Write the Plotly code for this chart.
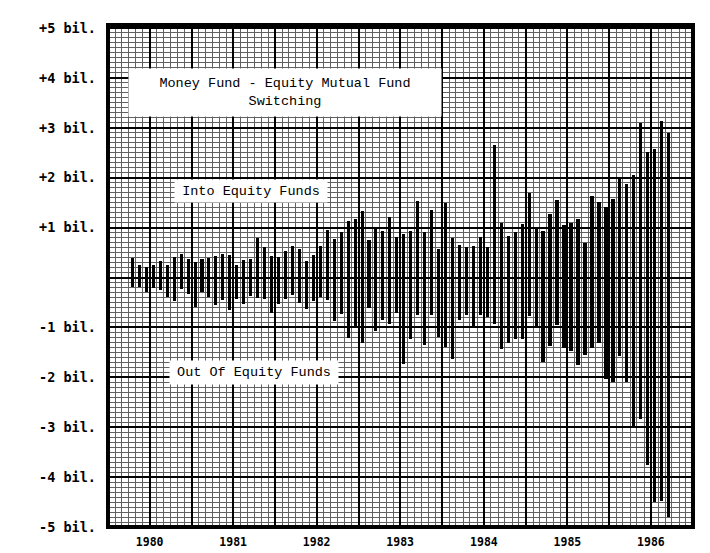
import pandas as pd
import plotly.graph_objects as go

# Monthly observations, April 1980 - September 1986 (billions of dollars)
months = pd.date_range("1980-04-01", periods=78, freq="MS").strftime("%Y-%m-%d").tolist()

# Top of each bar: switching into equity funds
into_equity = [
    0.40, 0.25, 0.21, 0.26, 0.34, 0.26, 0.42, 0.48, 0.38,
    0.32, 0.38, 0.40, 0.44, 0.48, 0.46, 0.26, 0.36, 0.38, 0.80, 0.62, 0.44,
    0.42, 0.54, 0.64, 0.58, 0.33, 0.46, 0.63, 0.95, 0.77, 0.91, 1.14, 1.18,
    1.34, 0.75, 0.98, 0.94, 1.21, 0.81, 0.87, 0.93, 1.54, 0.91, 1.36, 0.57,
    1.50, 0.80, 0.65, 0.61, 0.63, 0.82, 0.61, 2.65, 1.10, 0.84, 0.92, 1.08,
    1.70, 0.99, 0.93, 1.28, 1.55, 1.06, 1.10, 1.18, 0.69, 1.63, 1.51, 1.41,
    1.57, 1.98, 1.88, 2.06, 3.10, 2.51, 2.57, 3.14, 2.90,
]

# Bottom of each bar: switching out of equity funds
out_of_equity = [
    -0.19, -0.19, -0.30, -0.21, -0.26, -0.40, -0.48, -0.23, -0.33,
    -0.60, -0.30, -0.40, -0.56, -0.46, -0.66, -0.43, -0.53, -0.37, -0.42, -0.44, -0.72,
    -0.54, -0.44, -0.35, -0.52, -0.64, -0.48, -0.39, -0.45, -0.88, -0.73, -1.21, -0.98,
    -1.31, -0.62, -1.08, -0.85, -0.94, -0.72, -1.74, -1.24, -0.76, -1.35, -0.76, -1.20,
    -1.39, -1.63, -0.86, -0.75, -1.02, -0.76, -0.80, -0.94, -1.43, -1.31, -1.24, -1.24,
    -0.78, -0.97, -1.70, -1.37, -0.96, -1.41, -1.47, -1.76, -1.55, -1.41, -1.31, -2.04,
    -2.10, -1.57, -2.10, -3.02, -2.84, -3.75, -4.49, -4.47, -4.80,
]

years = ["1980", "1981", "1982", "1983", "1984", "1985", "1986"]
y_tick_values = [5, 4, 3, 2, 1, -1, -2, -3, -4, -5]
y_tick_labels = ["+5 bil.", "+4 bil.", "+3 bil.", "+2 bil.", "+1 bil.",
                 "-1 bil.", "-2 bil.", "-3 bil.", "-4 bil.", "-5 bil."]

# Half-year grid ticks; year labels sit at mid-year
x_tick_vals, x_tick_text = [], []
for yr in years:
    x_tick_vals += [f"{yr}-01-01", f"{yr}-07-01"]
    x_tick_text += ["", yr]
x_tick_vals.append(f"{int(years[-1]) + 1}-01-01")
x_tick_text.append("")

span = [hi - lo for hi, lo in zip(into_equity, out_of_equity)]

fig = go.Figure(
    go.Bar(
        x=months,
        y=span,
        base=out_of_equity,
        xperiod="M1",
        xperiodalignment="middle",
        width=14 * 86400000,
        marker=dict(color="black", line=dict(width=0)),
        showlegend=False,
        hoverinfo="skip",
    )
)

GRID_MINOR = "#616161"
label_font = dict(family="DejaVu Sans Mono", size=13.5, color="black", weight="bold")
text_font = dict(family="Liberation Mono", size=13.5, color="black")

fig.update_layout(
    width=710,
    height=553,
    margin=dict(l=100, r=25, t=16, b=24),
    paper_bgcolor="white",
    plot_bgcolor="white",
    bargap=0,
    xaxis=dict(
        type="date",
        range=["1980-01-01", "1987-01-01"],
        tickmode="array",
        tickvals=x_tick_vals,
        ticktext=x_tick_text,
        ticks="",
        ticklabelstandoff=6,
        tickfont=dict(family="DejaVu Sans Mono", size=11.5, color="black", weight="bold"),
        showgrid=True,
        gridcolor="black",
        gridwidth=1.5,
        minor=dict(tickmode="linear", tick0="1980-01-01", dtick="M1",
                   showgrid=True, gridcolor=GRID_MINOR, gridwidth=1, ticks=""),
        zeroline=False,
        showline=False,
        fixedrange=True,
    ),
    yaxis=dict(
        range=[-5.0, 5.06],
        tickmode="array",
        tickvals=y_tick_values,
        ticktext=y_tick_labels,
        ticks="",
        ticklabelstandoff=11,
        tickfont=label_font,
        showgrid=True,
        gridcolor="black",
        gridwidth=1.5,
        zeroline=True,
        zerolinecolor="black",
        zerolinewidth=2,
        minor=dict(tickmode="linear", tick0=0, dtick=0.1,
                   showgrid=True, gridcolor=GRID_MINOR, gridwidth=1, ticks=""),
        showline=False,
        fixedrange=True,
    ),
    shapes=[
        dict(type="rect", xref="paper", yref="paper", x0=0, x1=1, y0=0, y1=1,
             line=dict(color="black", width=4), layer="above"),
    ],
    annotations=[
        dict(text="Money Fund - Equity Mutual Fund<br>Switching",
             xref="paper", yref="paper", x=0.3026, y=0.8665,
             xanchor="center", yanchor="middle", showarrow=False,
             width=310, height=45, bgcolor="white", font=text_font, align="center"),
        dict(text="Into Equity Funds",
             xref="paper", yref="paper", x=0.2444, y=0.6686,
             xanchor="center", yanchor="middle", showarrow=False,
             width=150, height=20, bgcolor="white", font=text_font, align="center"),
        dict(text="Out Of Equity Funds",
             xref="paper", yref="paper", x=0.2496, y=0.308,
             xanchor="center", yanchor="middle", showarrow=False,
             width=166, height=21, bgcolor="white", font=text_font, align="center"),
    ],
)

fig.write_html("out.html")
